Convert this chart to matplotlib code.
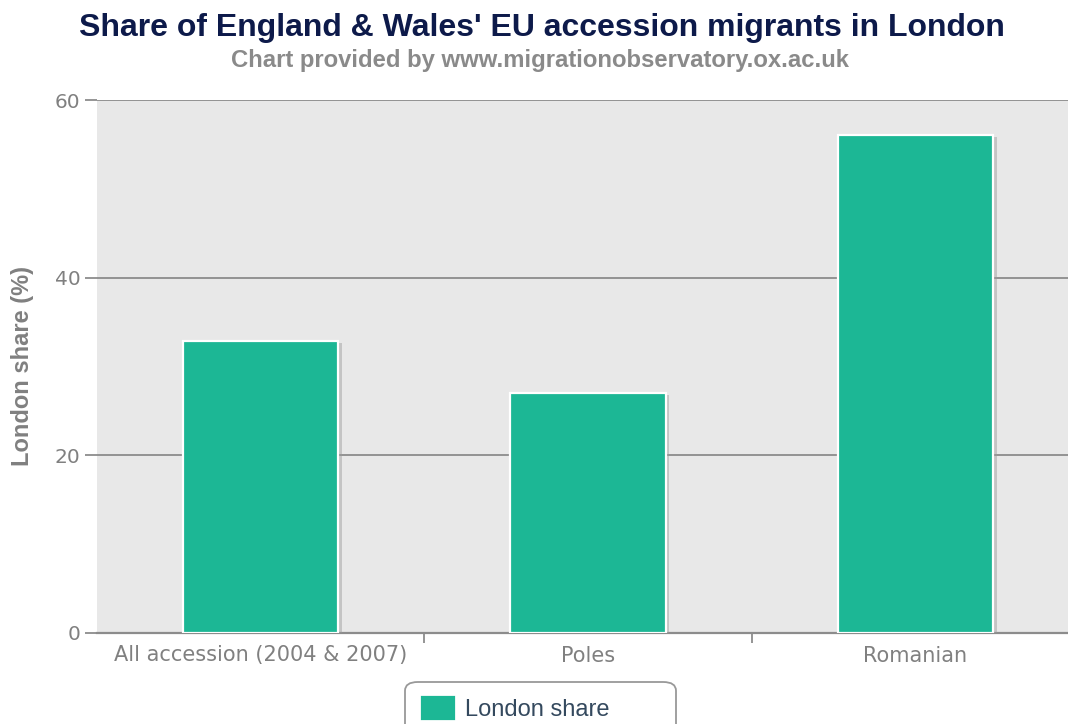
import matplotlib.pyplot as plt
import matplotlib.patheffects as pe
from matplotlib.patches import FancyBboxPatch
from matplotlib.legend_handler import HandlerPatch
import numpy as np

# data
categories = ['All accession (2004 & 2007)', 'Poles', 'Romanian']
london_share = [32.9, 27.0, 56.1]
y_ticks = [0, 20, 40, 60]

bar_color = '#1cb795'
bg_color = '#e8e8e8'
grid_color = '#8c8c8c'
label_gray = '#808080'

fig = plt.figure(figsize=(10.68, 7.24), dpi=100)
# plot area runs a little past the right edge of the image, as in the original
ax = fig.add_axes([97 / 1068, 91 / 724, 982 / 1068, 533 / 724])
ax.set_facecolor(bg_color)

x = np.arange(len(categories))
bars = ax.bar(x, london_share, width=0.475, color=bar_color, edgecolor='white',
              linewidth=1.6, zorder=3, label='London share')
for b in bars:
    b.set_path_effects([pe.SimplePatchShadow(offset=(2.5, -1.5), shadow_rgbFace='#999999', alpha=0.45),
                        pe.Normal()])

ax.set_xlim(-0.5, len(categories) - 0.5)
ax.set_ylim(0, 60)
ax.set_yticks(y_ticks)
ax.yaxis.grid(True, color=grid_color, linewidth=1.3, zorder=1)
ax.set_axisbelow(True)
ax.tick_params(axis='y', length=9, width=1.3, color=grid_color, labelsize=14.5,
               labelcolor=label_gray, pad=3)
for t in ax.get_yticklabels():
    t.set_fontfamily('DejaVu Sans')

ax.set_xticks(x)
ax.set_xticklabels(categories, fontfamily='DejaVu Sans', fontsize=15, color=label_gray)
ax.tick_params(axis='x', length=0, pad=9)
# boundary tick marks between categories
ax.set_xticks(np.arange(0.5, len(categories) - 0.5, 1), minor=True)
ax.tick_params(axis='x', which='minor', length=7, width=1.3, color=grid_color)

for s in ['top', 'right', 'left']:
    ax.spines[s].set_visible(False)
ax.spines['bottom'].set_color(grid_color)
ax.spines['bottom'].set_linewidth(1.6)

ax.set_ylabel('London share (%)', fontfamily='Liberation Sans', fontweight='bold',
              fontsize=17, color=label_gray)
ax.yaxis.set_label_coords(-63 / 982, 0.5 + 0 / 533)

fig.text(0.507, 1 - 28 / 724, "Share of England & Wales' EU accession migrants in London",
         ha='center', va='center', fontfamily='Liberation Sans', fontweight='bold',
         fontsize=23, color='#0d1a4a')
fig.text(0.506, 1 - 61 / 724, 'Chart provided by www.migrationobservatory.ox.ac.uk',
         ha='center', va='center', fontfamily='Liberation Sans', fontweight='bold',
         fontsize=17.2, color='#8a8a8a')

# legend box (extends past the bottom edge like the original)
box = FancyBboxPatch((405 / 1068, 1 - 760 / 724), 271 / 1068, 78 / 724,
                     boxstyle='round,pad=0,rounding_size=0.012', transform=fig.transFigure,
                     facecolor='white', edgecolor='#999999', linewidth=1.3)
fig.patches.append(box)


def rounded_handle(legend, orig_handle, xdescent, ydescent, width, height, fontsize):
    return FancyBboxPatch((-xdescent, -ydescent), width, height,
                          boxstyle='round,pad=0,rounding_size=3')


leg = fig.legend(handles=[bars], labels=['London share'], loc='upper left',
                 bbox_to_anchor=(422 / 1068, 1 - 697 / 724), frameon=False,
                 handlelength=1.36, handleheight=1.06, borderpad=0,
                 handletextpad=0.47, borderaxespad=0,
                 prop={'family': 'Liberation Sans', 'size': 17},
                 handler_map={type(bars[0]): HandlerPatch(patch_func=rounded_handle)})
for t in leg.get_texts():
    t.set_color('#34495e')
for h in leg.legend_handles:
    h.set_path_effects([])
    h.set_facecolor(bar_color)
    h.set_edgecolor(bar_color)

fig.savefig('out.png', dpi=100)
